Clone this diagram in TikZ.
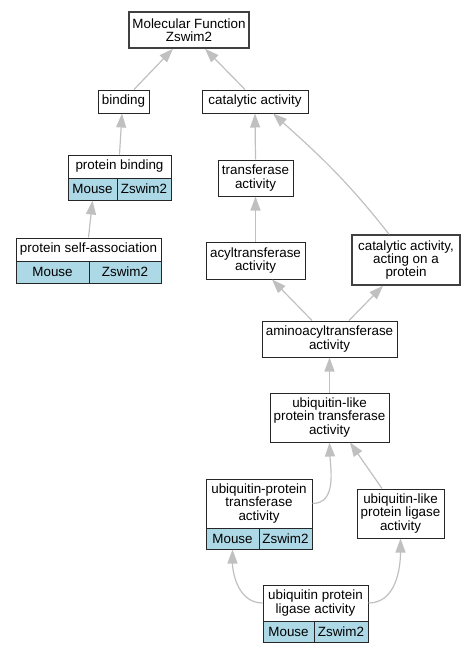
\documentclass[tikz,border=0pt]{standalone}
\usepackage{fontspec}
\setmainfont{Liberation Sans}
\usetikzlibrary{arrows.meta}

\definecolor{cellblue}{RGB}{173,216,230}
\definecolor{edgegray}{RGB}{192,192,192}

\tikzset{
 term/.style={draw=black!85, line width=1pt, fill=white, align=center, inner sep=0pt,
   font=\fontsize{13.4}{13.4}\selectfont},
 rootterm/.style={term, line width=1.5pt, draw=black!75},
 cell/.style={term, fill=cellblue},
 isa/.style={draw=edgegray, line width=1.2pt, -{Triangle[length=14pt,width=10pt]}},
}

\begin{document}
\begin{tikzpicture}[x=1pt, y=-1pt]
\useasboundingbox (0,0) rectangle (475,653);

% top
\node[rootterm, minimum width=120pt, minimum height=36pt] (mf) at (189,30) {Molecular Function\\Zswim2};
\node[term, minimum width=51pt, minimum height=23pt] (bind) at (123.5,101.5) {binding};
\node[term, minimum width=106pt, minimum height=23pt] (cat) at (255,101.5) {catalytic activity};

% binding branch
\node[term, minimum width=103pt, minimum height=23pt] (pb) at (119.5,166.5) {protein binding};
\node[cell, minimum width=49pt, minimum height=22pt] (pbm) at (92.5,189) {Mouse};
\node[cell, minimum width=54pt, minimum height=22pt] (pbz) at (144,189) {Zswim2};
\node[term, minimum width=145pt, minimum height=23pt] (psa) at (88.5,249.5) {protein self-association};
\node[cell, minimum width=73pt, minimum height=22pt] (psam) at (52.5,272) {Mouse};
\node[cell, minimum width=72pt, minimum height=22pt] (psaz) at (125,272) {Zswim2};

% catalytic branch
\node[term, minimum width=75pt, minimum height=36pt] (trans) at (255.5,178) {transferase\\activity};
\node[term, minimum width=99pt, minimum height=37pt] (acyl) at (255.5,260.5) {acyltransferase\\activity};
\node[rootterm, minimum width=108pt, minimum height=50pt] (cap) at (406,260) {catalytic activity,\\acting on a\\protein};
\node[term, minimum width=135pt, minimum height=36pt] (amino) at (329.5,339) {aminoacyltransferase\\activity};
\node[term, minimum width=119pt, minimum height=49pt] (ultr) at (329.5,417.5) {ubiquitin-like\\protein transferase\\activity};
\node[term, minimum width=106pt, minimum height=49pt] (uptr) at (259,503.5) {ubiquitin-protein\\transferase\\activity};
\node[cell, minimum width=53pt, minimum height=21pt] (uptrm) at (232.5,538.5) {Mouse};
\node[cell, minimum width=53pt, minimum height=21pt] (uptrz) at (285.5,538.5) {Zswim2};
\node[term, minimum width=87pt, minimum height=49pt] (ullig) at (400.5,513.5) {ubiquitin-like\\protein ligase\\activity};
\node[term, minimum width=105pt, minimum height=36pt] (uplig) at (315.5,603) {ubiquitin protein\\ligase activity};
\node[cell, minimum width=51pt, minimum height=21pt] (upligm) at (288.5,631.5) {Mouse};
\node[cell, minimum width=54pt, minimum height=21pt] (upligz) at (341,631.5) {Zswim2};

% is_a edges
\draw[isa] ([xshift=10.5pt]bind.north) -- ([xshift=-16pt]mf.south);
\draw[isa] ([xshift=-10pt]cat.north) -- ([xshift=16pt]mf.south);
\draw[isa] (pb.north) -- ([xshift=-1.5pt]bind.south);
\draw[isa] (psa.north) -- (pbm.south);
\draw[isa] (trans.north) -- (cat.south);
\draw[isa] ([xshift=-17pt]cap.north) to[out=128, in=-42] ([xshift=18pt]cat.south);
\draw[isa] (acyl.north) -- (trans.south);
\draw[isa] ([xshift=-17.5pt]amino.north) -- ([xshift=16.5pt]acyl.south);
\draw[isa] ([xshift=19.5pt]amino.north) -- ([xshift=-23pt]cap.south);
\draw[isa] (ultr.north) -- (amino.south);
\draw[isa] (uptr.east) to[out=0, in=-88] (ultr.south);
\draw[isa] ([xshift=-18.5pt]ullig.north) -- ([xshift=20.5pt]ultr.south);
\draw[isa] (uplig.west) to[out=180, in=-90] (uptrm.south);
\draw[isa] (uplig.east) to[out=0, in=-90] (ullig.south);
\end{tikzpicture}
\end{document}
